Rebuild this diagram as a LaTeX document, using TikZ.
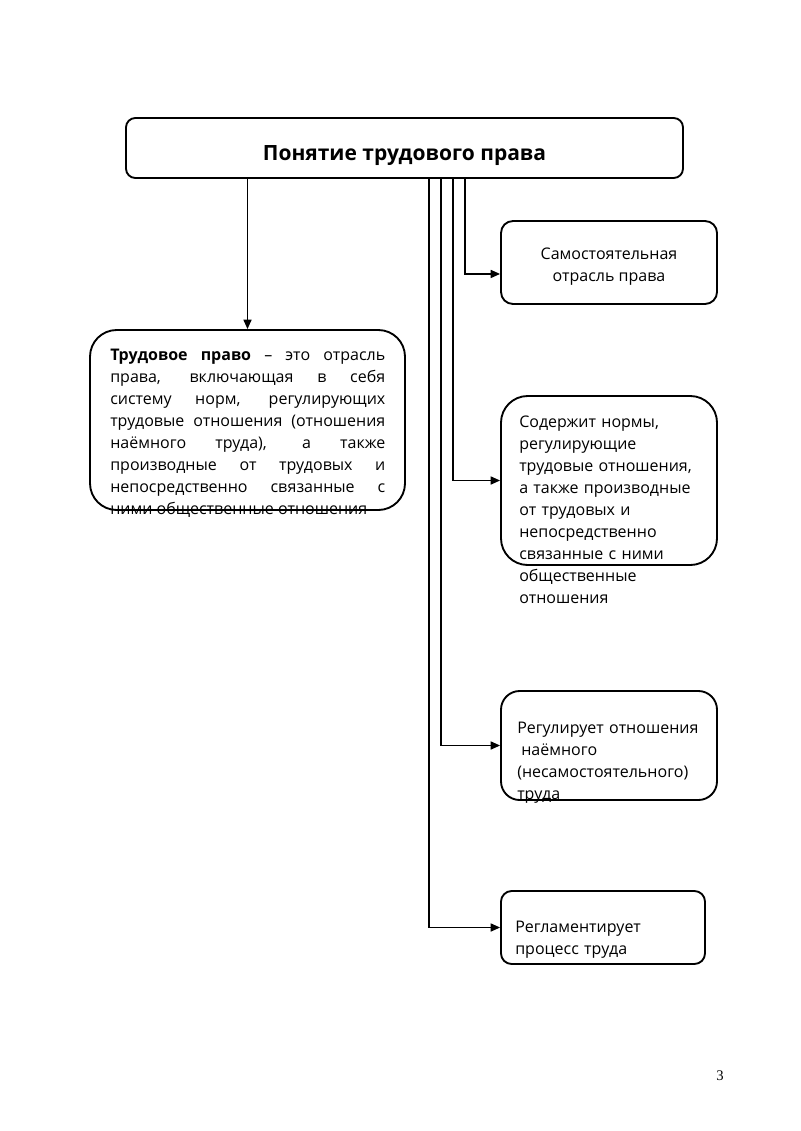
\documentclass[tikz,border=0pt]{standalone}
\usepackage{fontspec}
\setmainfont{Open Sans}
\newfontfamily\pagefont{Liberation Serif}
\usetikzlibrary{arrows.meta}
\tikzset{
    x=0.75pt, y=-0.75pt, % one unit is one pixel of the page, y runs downwards
    >={Triangle[length=7pt,width=6pt]}, % small filled arrow heads
    box/.style={draw, line width=1.4pt, rounded corners=#1, inner sep=0pt}, % the frames
    box/.default=8pt,
    txt/.style={inner sep=0pt, anchor=base west, font=\fontsize{12}{16.5}\selectfont}, % texts in the frames
    link/.style={->, line width=1.1pt}, % the connectors
    }
\begin{document}
\begin{tikzpicture}
\useasboundingbox (0,0) rectangle (800,1131);
% frames
\node[box=7pt, minimum width=417.75pt, minimum height=45pt] (title) at (404.5,148) {};
\node[box=9pt, minimum width=162pt, minimum height=62.25pt] (samost) at (609,262.5) {};
\node[box=20pt, minimum width=236.25pt, minimum height=135pt] (def) at (247.5,420) {};
\node[box=20pt, minimum width=162pt, minimum height=126.75pt] (norm) at (609,480.5) {};
\node[box=14pt, minimum width=162pt, minimum height=81.75pt] (naem) at (609,745.5) {};
\node[box=8pt, minimum width=153pt, minimum height=54.75pt] (proc) at (603,927.5) {};
% texts
\node[inner sep=0pt, anchor=base, font=\bfseries\fontsize{15.75}{19}\selectfont] (titletext) at (404.5,160) {Понятие трудового права};
\node[inner sep=0pt, anchor=base, align=center, font=\fontsize{12}{16.5}\selectfont] (samosttext) at (609,281) {Самостоятельная\\отрасль права};
\node[txt, text width=206.25pt, align=justify] (deftext) at (110,360)
    {\hyphenpenalty=10000\tolerance=10000
    \textbf{Трудовое право} – это отрасль\linebreak
    права, включающая в себя\linebreak
    систему норм, регулирующих\linebreak
    трудовые отношения (отношения\linebreak
    наёмного труда), а также\linebreak
    производные от трудовых и\linebreak
    непосредственно связанные с\linebreak
    ними общественные отношения};
\node[txt, text width=150pt, align=left] (normtext) at (519,427)
    {Содержит нормы,\\регулирующие\\трудовые отношения,\\а также производные\\от трудовых и\\непосредственно\\связанные с ними\\общественные\\отношения};
\node[txt, text width=150pt, align=left] (naemtext) at (517,733)
    {Регулирует отношения\\\hspace*{3pt}наёмного\\(несамостоятельного)\\труда};
\node[txt, text width=150pt, align=left] (proctext) at (515,932)
    {Регламентирует\\процесс труда};
\node[inner sep=0pt, anchor=base west, font=\pagefont\fontsize{11}{13}\selectfont] (pagenum) at (716,1080) {3};
% connectors
\foreach \n/\x in {a/429,b/441,c/453,d/465}
    \coordinate (br\n) at (\x,178);
\draw[link] (def.north |- title.south) -- (def.north);
\draw[link] (brd) |- ([yshift=-8.6pt]samost.west);
\draw[link] (brc) |- (norm.west);
\draw[link] (brb) |- (naem.west);
\draw[link] (bra) |- (proc.west);
\end{tikzpicture}
\end{document}
